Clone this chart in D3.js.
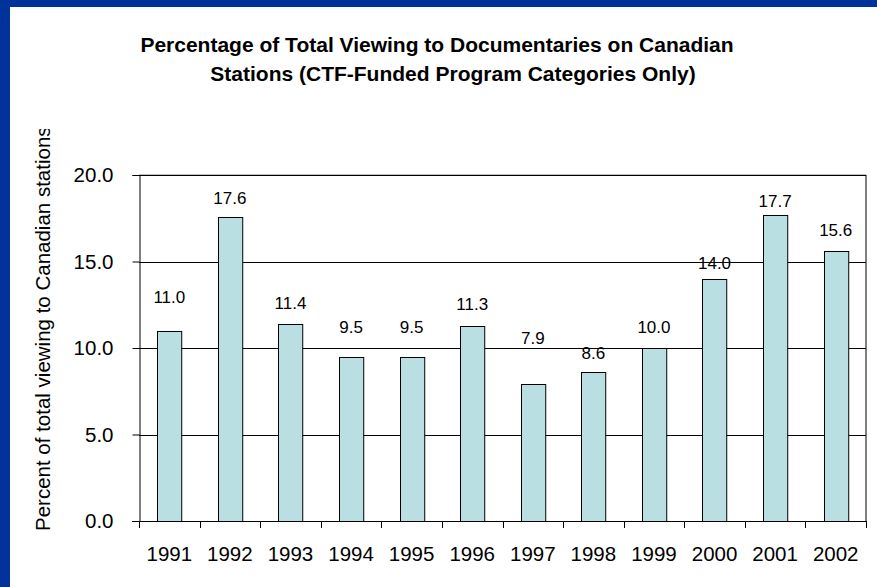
<!DOCTYPE html>
<html>
<head>
<meta charset="utf-8">
<script src="https://cdn.jsdelivr.net/npm/d3@7"></script>
<style>
  html, body { margin: 0; padding: 0; background: #fff; overflow: hidden; }
  svg { display: block; font-family: "Liberation Sans", Arial, sans-serif; }
</style>
</head>
<body>
<svg id="chart" width="877" height="587"></svg>
<script>
// chart data
const years = ['1991', '1992', '1993', '1994', '1995', '1996', '1997', '1998', '1999', '2000', '2001', '2002'];
const shares = [11.0, 17.6, 11.4, 9.5, 9.5, 11.3, 7.9, 8.6, 10.0, 14.0, 17.7, 15.6];
const yTicks = [0, 5, 10, 15, 20];
// how far each value label sits above its bar (px), labels were hand placed in the original
const labelGap = [34, 19, 21, 30, 30, 22, 46, 19, 21, 16, 14, 21];

const svg = d3.select('#chart');
const W = 877, H = 587;

// blue frame on top and left
svg.append('rect').attr('width', W).attr('height', H).attr('fill', '#003399');
svg.append('rect').attr('x', 10).attr('y', 7).attr('width', W - 10).attr('height', H - 7).attr('fill', '#fff');

const plot = { left: 139, right: 866, top: 175, bottom: 521 };

const x = d3.scaleBand().domain(years).range([plot.left, plot.right])
  .paddingInner(0.6).paddingOuter(0.3);
const y = d3.scaleLinear().domain([0, 20]).range([plot.bottom, plot.top]);
const xi = d3.scaleLinear().domain([0, years.length]).range([plot.left, plot.right]);

// title
svg.append('text').attr('x', 437).attr('y', 52).attr('text-anchor', 'middle')
  .attr('font-size', '21px').attr('font-weight', 'bold').attr('fill', '#000')
  .text('Percentage of Total Viewing to Documentaries on Canadian');
svg.append('text').attr('x', 453).attr('y', 81).attr('text-anchor', 'middle')
  .attr('font-size', '21px').attr('font-weight', 'bold').attr('fill', '#000')
  .text('Stations (CTF-Funded Program Categories Only)');

// plot border
svg.append('line').attr('x1', plot.left).attr('x2', plot.right).attr('y1', plot.top).attr('y2', plot.top)
  .attr('stroke', '#808080');
svg.append('line').attr('x1', plot.right).attr('x2', plot.right).attr('y1', plot.top).attr('y2', plot.bottom)
  .attr('stroke', '#000');

// gridlines
svg.append('g').selectAll('line').data(yTicks.filter(d => d > 0)).join('line')
  .attr('x1', plot.left).attr('x2', plot.right)
  .attr('y1', d => Math.round(y(d)) + 0.5).attr('y2', d => Math.round(y(d)) + 0.5)
  .attr('stroke', '#000');

// bars
svg.append('g').selectAll('rect').data(shares).join('rect')
  .attr('x', (d, i) => Math.round(x(years[i])) + 0.5)
  .attr('y', d => Math.round(y(d)) + 0.5)
  .attr('width', x.bandwidth())
  .attr('height', d => plot.bottom - Math.round(y(d)))
  .attr('fill', '#b9dfe2').attr('stroke', '#000');

// value labels
svg.append('g').selectAll('text').data(shares).join('text')
  .attr('x', (d, i) => x(years[i]) + x.bandwidth() / 2)
  .attr('y', (d, i) => y(d) - labelGap[i] + 6)
  .attr('text-anchor', 'middle').attr('font-size', '17px').attr('fill', '#000')
  .text(d => d.toFixed(1));

// y axis
const yAxis = svg.append('g').attr('transform', `translate(${plot.left + 0.5},0)`)
  .call(d3.axisLeft(y).tickValues(yTicks).tickSize(7).tickPadding(19).tickFormat(d3.format('.1f')));
yAxis.selectAll('path, line').attr('stroke', '#000');
yAxis.selectAll('text').attr('font-size', '20.5px').attr('fill', '#000').attr('font-family', null);

// x axis: line + boundary ticks + year labels
svg.append('line').attr('x1', plot.left - 7).attr('x2', plot.right).attr('y1', plot.bottom + 0.5).attr('y2', plot.bottom + 0.5)
  .attr('stroke', '#000');
svg.append('g').selectAll('line').data(d3.range(years.length + 1)).join('line')
  .attr('x1', d => Math.round(xi(d)) + 0.5).attr('x2', d => Math.round(xi(d)) + 0.5)
  .attr('y1', plot.bottom).attr('y2', plot.bottom + 7)
  .attr('stroke', '#000');
svg.append('g').selectAll('text').data(years).join('text')
  .attr('x', d => x(d) + x.bandwidth() / 2).attr('y', 561)
  .attr('text-anchor', 'middle').attr('font-size', '20.5px').attr('fill', '#000')
  .text(d => d);

// y axis title, clipped at the top like the original
svg.append('clipPath').attr('id', 'yclip').append('rect')
  .attr('x', 10).attr('y', 129).attr('width', 80).attr('height', 460);
svg.append('g').attr('clip-path', 'url(#yclip)')
  .append('text')
  .attr('transform', 'translate(50,531) rotate(-90)')
  .attr('font-size', '20.5px').attr('fill', '#000')
  .text('Percent of total viewing to Canadian stations');
</script>
</body>
</html>
